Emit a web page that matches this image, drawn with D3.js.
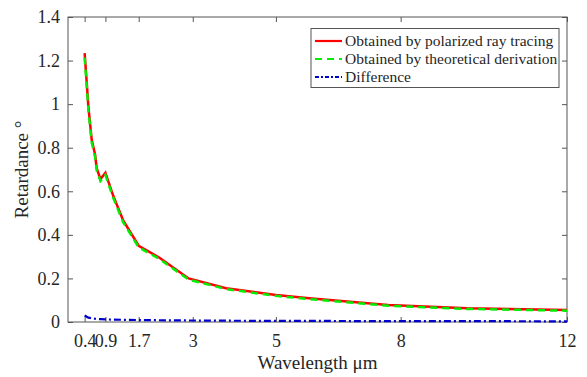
<!DOCTYPE html>
<html><head><meta charset="utf-8">
<script src="https://cdn.jsdelivr.net/npm/d3@7"></script>
<style>body{margin:0;background:#fff}svg{display:block}svg text{font-family:"Liberation Serif","Times New Roman",serif !important}</style>
</head><body><svg id="c" width="587" height="377"></svg>
<script>
const wavelength = [0.4,0.45,0.49,0.57,0.65,0.69,0.78,0.9,1.09,1.33,1.7,2.2,2.9,3.8,5.0,5.8,7.7,9.6,12];
const rayTracing = [1.234,1.10,0.988,0.836,0.77,0.706,0.656,0.685,0.578,0.465,0.35,0.295,0.20,0.155,0.124,0.109,0.078,0.063,0.055];
const theory     = [1.214,1.084,0.974,0.824,0.759,0.696,0.647,0.675,0.569,0.457,0.343,0.289,0.195,0.151,0.120,0.105,0.075,0.060,0.052];
const difference = [0.030,0.024,0.020,0.017,0.015,0.014,0.013,0.012,0.011,0.010,0.009,0.008,0.007,0.006,0.005,0.005,0.004,0.004,0.003];
const xTicks = [0.4,0.9,1.7,3,5,8,12];
const yTicks = [0,0.2,0.4,0.6,0.8,1,1.2,1.4];
const legendLabels = ["Obtained by polarized ray tracing","Obtained by theoretical derivation","Difference"];

const FONT='"Liberation Serif", "Times New Roman", serif';
const W=587,H=377,m={l:68,r:20,t:17,b:55};
const svg=d3.select("#c");
const x=d3.scaleLinear().domain([0,12]).range([m.l,W-m.r]);
const y=d3.scaleLinear().domain([0,1.4]).range([H-m.b,m.t]);
const axCol="#555";
const setFont=(sel,size)=>sel.style("font-family",FONT,"important").style("font-size",size+"px").attr("font-family",FONT).attr("fill","#262626");

svg.append("rect").attr("x",m.l).attr("y",m.t).attr("width",W-m.r-m.l).attr("height",H-m.b-m.t)
  .attr("fill","none").attr("stroke",axCol).attr("stroke-width",1);

const fmt=d=>String(d);
const gx=svg.append("g").attr("transform",`translate(0,${H-m.b})`)
  .call(d3.axisBottom(x).tickValues(xTicks).tickFormat(fmt).tickSizeInner(-5).tickSizeOuter(0).tickPadding(12));
const gxt=svg.append("g").attr("transform",`translate(0,${m.t})`)
  .call(d3.axisTop(x).tickValues(xTicks).tickFormat("").tickSizeInner(-5).tickSizeOuter(0));
const gy=svg.append("g").attr("transform",`translate(${m.l},0)`)
  .call(d3.axisLeft(y).tickValues(yTicks).tickFormat(fmt).tickSizeInner(-5).tickSizeOuter(0).tickPadding(8));
const gyr=svg.append("g").attr("transform",`translate(${W-m.r},0)`)
  .call(d3.axisRight(y).tickValues(yTicks).tickFormat("").tickSizeInner(-5).tickSizeOuter(0));
[gx,gxt,gy,gyr].forEach(g=>{g.select(".domain").remove();g.attr("font-family",FONT);
  g.selectAll("line").attr("stroke",axCol);
  setFont(g.selectAll("text"),18);});

const line=vals=>d3.line().x((d,i)=>x(wavelength[i])).y(d=>y(d))(vals);
svg.append("path").attr("d",line(rayTracing)).attr("fill","none").attr("stroke","#ff0000").attr("stroke-width",2.5);
svg.append("path").attr("d",line(theory)).attr("fill","none").attr("stroke","#00ee00").attr("stroke-width",2.5).attr("stroke-dasharray","7,5");
svg.append("path").attr("d",line(difference)).attr("fill","none").attr("stroke","#0000cc").attr("stroke-width",2.2).attr("stroke-dasharray","7,3,2,3");

setFont(svg.append("text").attr("x",(m.l+W-m.r)/2).attr("y",369).attr("text-anchor","middle"),19).text("Wavelength \u03bcm");
setFont(svg.append("text").attr("transform",`translate(28,${(m.t+H-m.b)/2}) rotate(-90)`).attr("text-anchor","middle"),19).text("Retardance \u00b0");

const lg=svg.append("g");
lg.append("rect").attr("x",311).attr("y",28.5).attr("width",248).attr("height",59).attr("fill","#fff").attr("stroke",axCol).attr("stroke-width",1);
const styles=[{c:"#ff0000",d:null},{c:"#00ee00",d:"7,5"},{c:"#0000cc",d:"4,2,2,2"}];
legendLabels.forEach((t,i)=>{
  const yy=41+i*18;
  lg.append("line").attr("x1",315).attr("x2",342).attr("y1",yy).attr("y2",yy).attr("stroke",styles[i].c).attr("stroke-width",2.2).attr("stroke-dasharray",styles[i].d);
  setFont(lg.append("text").attr("x",345).attr("y",yy+5),15.5).text(t);
});
</script></body></html>
